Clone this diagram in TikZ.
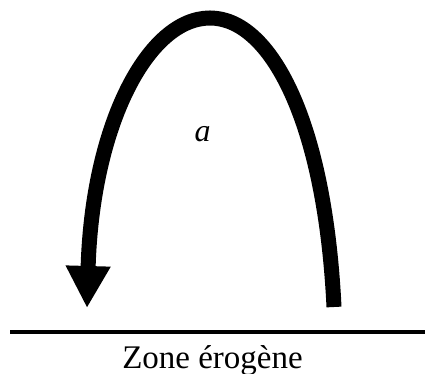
\documentclass[tikz,border=0pt]{standalone}
\usepackage{fontspec}
\setmainfont{Liberation Serif}
\usetikzlibrary{arrows.meta}
\begin{document}
\begin{tikzpicture}[x=1pt,y=-1pt,
  arc/.style={line width=15pt,-{Triangle[length=42pt,width=42pt]}},
  ground/.style={line width=4.5pt},
  lbl/.style={inner sep=0pt,font=\fontsize{33}{37}\selectfont}]
\useasboundingbox (0,0) rectangle (425,374);
\coordinate (start) at (334,307);
\coordinate (top) at (210,18);
\coordinate (tip) at (87,308);
\coordinate (gl) at (10,332);
\coordinate (gr) at (425,332);
\draw[arc] (start) .. controls (325,120) and (270,18) .. (top)
  .. controls (148,18) and (92,125) .. (tip);
\draw[ground] (gl) -- (gr);
\node[lbl,font=\fontsize{32}{36}\selectfont\itshape] (a) at (202.5,134) {a};
\node[lbl,anchor=base] (zone) at (212.5,368) {Zone érogène};
\end{tikzpicture}
\end{document}
